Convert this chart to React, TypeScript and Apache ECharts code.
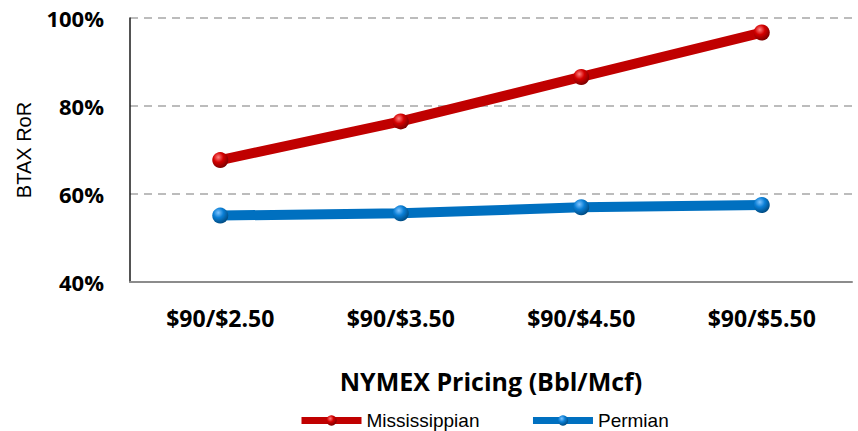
import React, { useEffect, useRef } from "react";
import * as echarts from "echarts";

const categories = ["$90/$2.50", "$90/$3.50", "$90/$4.50", "$90/$5.50"];
const mississippian = [67.7, 76.5, 86.6, 96.7];
const permian = [55.1, 55.6, 57.0, 57.5];
const yTicks = { min: 40, max: 100, interval: 20 };

const sphere = (light: string, mid: string, dark: string) => ({
  type: "radial",
  x: 0.38,
  y: 0.32,
  r: 0.7,
  colorStops: [
    { offset: 0, color: light },
    { offset: 0.45, color: mid },
    { offset: 1, color: dark },
  ],
});

export default function App() {
  const ref = useRef<HTMLDivElement>(null);
  useEffect(() => {
    if (!ref.current) return;
    const chart = echarts.init(ref.current, undefined, { renderer: "svg" });
    chart.setOption({
      animation: false,
      backgroundColor: "#ffffff",
      grid: { left: 130, right: 6, top: 18, bottom: 149 },
      legend: {
        top: 411,
        left: 298,
        padding: 0,
        itemWidth: 60,
        itemHeight: 13,
        itemGap: 50,
        lineStyle: { width: 7 },
        textStyle: { fontFamily: "Liberation Sans", fontSize: 19, color: "#000" },
        data: ["Mississippian", "Permian"],
      },
      xAxis: {
        type: "category",
        data: categories,
        boundaryGap: true,
        axisLine: { show: true, lineStyle: { color: "#8c8c8c", width: 2 } },
        axisTick: { show: false },
        axisLabel: {
          margin: 24,
          fontFamily: "Open Sans",
          fontWeight: "bold",
          fontSize: 23,
          color: "#000",
        },
        name: "NYMEX Pricing (Bbl/Mcf)",
        nameLocation: "middle",
        nameGap: 86,
        nameTextStyle: {
          fontFamily: "Open Sans",
          fontWeight: "bold",
          fontSize: 25,
          color: "#000",
        },
        z: 5,
      },
      yAxis: {
        type: "value",
        min: yTicks.min,
        max: yTicks.max,
        interval: yTicks.interval,
        axisLine: { show: true, lineStyle: { color: "#1a1a1a", width: 1.5 } },
        axisTick: { show: false },
        axisLabel: {
          margin: 26,
          formatter: "{value}%",
          fontFamily: "Open Sans",
          fontWeight: "bold",
          fontSize: 22,
          color: "#000",
        },
        splitLine: {
          show: true,
          lineStyle: { color: "#a6a6a6", width: 1.5, type: [8, 6] },
        },
        name: "BTAX RoR",
        nameLocation: "middle",
        nameGap: 96,
        nameRotate: 90,
        nameTextStyle: { fontFamily: "Liberation Sans", fontSize: 20, color: "#000" },
      },
      series: [
        {
          name: "Mississippian",
          type: "line",
          data: mississippian,
          symbol: "circle",
          symbolSize: 16,
          lineStyle: { color: "#c00000", width: 10 },
          itemStyle: { color: sphere("#ff8080", "#d40000", "#7a0000") },
          z: 3,
        },
        {
          name: "Permian",
          type: "line",
          data: permian,
          symbol: "circle",
          symbolSize: 16,
          lineStyle: { color: "#0070c0", width: 10 },
          itemStyle: { color: sphere("#7fc4ff", "#0a7fd6", "#004a80") },
          z: 3,
        },
      ],
    });
    return () => chart.dispose();
  }, []);
  return (
    <div
      ref={ref}
      style={{ position: "fixed", left: 0, top: 0, width: 858, height: 431 }}
    />
  );
}
